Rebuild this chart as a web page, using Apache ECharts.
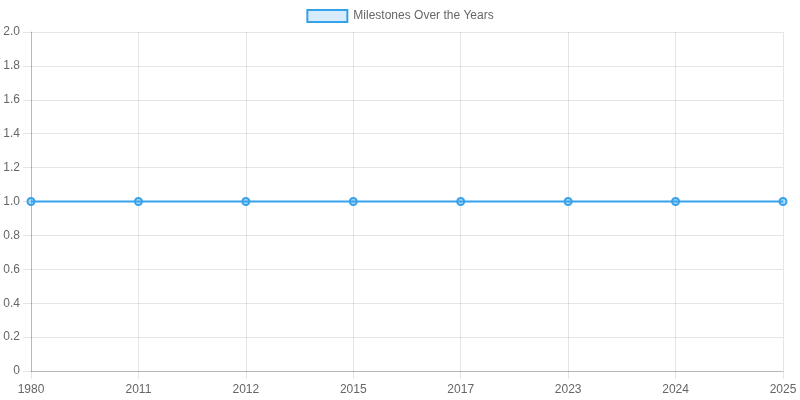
<!DOCTYPE html>
<html>
<head>
<meta charset="utf-8">
<script src="https://cdn.jsdelivr.net/npm/echarts@6/dist/echarts.min.js"></script>
<style>
html,body{margin:0;padding:0;background:#fff;}
#c{width:800px;height:400px;}
</style>
</head>
<body>
<div id="c"></div>
<script>
var years = ['1980','2011','2012','2015','2017','2023','2024','2025'];
var milestones = [1,1,1,1,1,1,1,1];
var seriesName = 'Milestones Over the Years';

var chart = echarts.init(document.getElementById('c'), null, {renderer:'canvas'});
var gridColor = 'rgba(0,0,0,0.1)';
chart.setOption({
  animation:false,
  textStyle:{fontFamily:'Liberation Sans, Arial, sans-serif'},
  legend:{
    top:4, left:'center',
    itemWidth:40, itemHeight:12, itemGap:10,
    textStyle:{color:'#666', fontSize:12, padding:[0,0,0,1]},
    data:[{name:seriesName, icon:'rect', itemStyle:{color:'rgba(54,162,235,0.2)', borderColor:'#36a2eb', borderWidth:2}}]
  },
  grid:{left:31,right:17,top:32,bottom:29,containLabel:false},
  xAxis:{
    type:'category', data:years, boundaryGap:false,
    axisLine:{show:true, lineStyle:{color:'rgba(0,0,0,0.2)'}},
    axisTick:{show:true, length:8, alignWithLabel:true, lineStyle:{color:gridColor}},
    axisLabel:{color:'#666', fontSize:12, margin:13, interval:0},
    splitLine:{show:true, lineStyle:{color:gridColor}}
  },
  yAxis:{
    type:'value', min:0, max:2, interval:0.2,
    axisLine:{show:true, lineStyle:{color:'rgba(0,0,0,0.2)'}},
    axisTick:{show:true, length:8, lineStyle:{color:gridColor}},
    axisLabel:{color:'#666', fontSize:12, margin:11,
      formatter:function(v){return v===0?'0':v.toFixed(1);}},
    splitLine:{show:true, lineStyle:{color:gridColor}}
  },
  series:[{
    name:seriesName, type:'line', data:milestones,
    symbol:'circle', symbolSize:7,
    lineStyle:{color:'#36a2eb', width:2},
    itemStyle:{color:'rgba(54,162,235,0.35)', borderColor:'#36a2eb', borderWidth:2}
  }]
});
</script>
</body>
</html>
